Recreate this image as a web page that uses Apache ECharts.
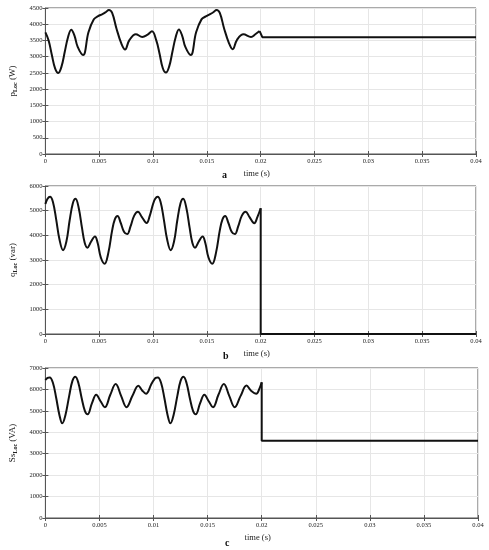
<!DOCTYPE html>
<html>
<head>
<meta charset="utf-8">
<script src="https://cdn.jsdelivr.net/npm/echarts@6/dist/echarts.min.js"></script>
<style>
  html, body { margin: 0; padding: 0; background: #fff; }
  #main { width: 489px; height: 550px; }
</style>
</head>
<body>
<div id="main"></div>
<script>
// time (s) and values, 0 .. 0.02 s
const tA = [0, 0.0003, 0.0006, 0.0009, 0.0012, 0.0015, 0.0018, 0.0021, 0.0024, 0.0027, 0.0030, 0.0035, 0.0040, 0.0045, 0.0049, 0.0053, 0.0056, 0.0059, 0.0062, 0.0066, 0.00705, 0.0074, 0.0078, 0.0084, 0.0090, 0.0095, 0.0099,
            0.0103, 0.0106, 0.0109, 0.0112, 0.0115, 0.0118, 0.0121, 0.0124, 0.0127, 0.0130, 0.0135, 0.0140, 0.0145, 0.0149, 0.0153, 0.0156, 0.0159, 0.0162, 0.0166, 0.01705, 0.0174, 0.0178, 0.0184, 0.0191, 0.0195, 0.0199];
const pLoc = [3750, 3500, 3050, 2640, 2500, 2700, 3150, 3600, 3830, 3650, 3300, 3050, 3750, 4150, 4250, 4310, 4370, 4440, 4350, 3870, 3410, 3220, 3510, 3690, 3610, 3680, 3780,
              3500, 3100, 2650, 2510, 2700, 3150, 3600, 3840, 3650, 3300, 3050, 3750, 4150, 4240, 4310, 4370, 4440, 4350, 3870, 3420, 3230, 3520, 3690, 3610, 3690, 3790];
const tAEnd = [0.0199, 0.02015, 0.04];
const pLocEnd = [3790, 3600, 3600];

const tB = [0, 0.0002, 0.00043, 0.0007, 0.0010, 0.0013, 0.00164, 0.00195, 0.00225, 0.00255, 0.0028, 0.0031, 0.0034, 0.00365, 0.0039, 0.00425, 0.0046, 0.00485, 0.00515, 0.0055, 0.00585, 0.0062, 0.00645, 0.0067, 0.0070, 0.0073, 0.0076, 0.0079, 0.00825, 0.0086, 0.00895, 0.0094, 0.0097,
            0.0100, 0.0102, 0.01043, 0.0107, 0.0110, 0.0113, 0.01164, 0.01195, 0.01225, 0.01255, 0.0128, 0.0131, 0.0134, 0.01365, 0.0139, 0.01425, 0.0146, 0.01485, 0.01515, 0.0155, 0.01585, 0.0162, 0.01645, 0.0167, 0.0170, 0.0173, 0.0176, 0.0179, 0.01825, 0.0186, 0.01895, 0.0194, 0.0197, 0.0200];
const qLoc = [5270, 5480, 5560, 5350, 4650, 3850, 3400, 3750, 4600, 5300, 5480, 5100, 4300, 3700, 3500, 3750, 3950, 3700, 3100, 2850, 3300, 4200, 4650, 4780, 4500, 4150, 4050, 4350, 4800, 4960, 4750, 4500, 4800,
              5270, 5480, 5560, 5350, 4650, 3850, 3400, 3750, 4600, 5300, 5480, 5100, 4300, 3700, 3500, 3750, 3950, 3700, 3100, 2850, 3300, 4200, 4650, 4780, 4500, 4150, 4050, 4350, 4800, 4960, 4750, 4490, 4750, 5100];
const tBEnd = [0.0200, 0.0200, 0.04];
const qLocEnd = [5100, 0, 0];

const tC = [0, 0.0002, 0.0004, 0.0007, 0.0010, 0.0013, 0.00156, 0.00185, 0.0022, 0.0025, 0.00277, 0.00305, 0.00335, 0.00365, 0.0039, 0.0043, 0.0047, 0.0051, 0.0055, 0.0060, 0.0065, 0.0070, 0.0075, 0.00805, 0.0086, 0.00895, 0.0093, 0.0098,
            0.0100, 0.0102, 0.0104, 0.0107, 0.0110, 0.0113, 0.01156, 0.01185, 0.0122, 0.0125, 0.01277, 0.01305, 0.01335, 0.01365, 0.0139, 0.0143, 0.0147, 0.0151, 0.0155, 0.0160, 0.0165, 0.0170, 0.0175, 0.01805, 0.0186, 0.0190, 0.0195, 0.0198, 0.0200];
const sLoc = [6440, 6540, 6560, 6300, 5600, 4800, 4420, 4800, 5700, 6400, 6590, 6300, 5600, 5000, 4840, 5350, 5750, 5450, 5170, 5750, 6250, 5700, 5170, 5700, 6170, 5950, 5800, 6250,
              6420, 6540, 6560, 6300, 5600, 4800, 4420, 4800, 5700, 6400, 6590, 6300, 5600, 5000, 4840, 5350, 5750, 5450, 5170, 5750, 6250, 5700, 5170, 5700, 6180, 5950, 5800, 6050, 6330];
const tCEnd = [0.0200, 0.0200, 0.04];
const sLocEnd = [6330, 3600, 3600];

const xTicks = { min: 0, max: 0.04, interval: 0.005 };
const yTicks = [
  { min: 0, max: 4500, interval: 500 },
  { min: 0, max: 6000, interval: 1000 },
  { min: 0, max: 7000, interval: 1000 }
];
const yNames = [
  '{a|p}{s|Loc}{a| (W)}',
  '{a|q}{s|Loc}{a| (var)}',
  '{a|Ss}{s|Loc}{a| (VA)}'
];
const panelLetters = ['a', 'b', 'c'];

function zip(t, v) {
  return t.map(function (x, i) { return [x, v[i]]; });
}

const serif = 'Liberation Serif';
const frame = '#555';
const gridColor = '#e6e6e6';

const grids = [
  { left: 38, right: 13, top: 8, height: 146 },
  { left: 36, right: 13, top: 186, height: 148 },
  { left: 35, right: 11, top: 368, height: 150 }
];

let xAxes = [], yAxes = [], series = [], titles = [];
const letterPos = [[222, 170], [223, 351], [225, 538]];

grids.forEach(function (g, i) {
  g.show = true;
  g.borderColor = frame;
  g.borderWidth = 1;
  g.backgroundColor = '#fff';
  // bottom axis with labels
  xAxes.push({
    type: 'value', gridIndex: i, min: xTicks.min, max: xTicks.max, interval: xTicks.interval,
    name: 'time (s)', nameLocation: 'middle', nameGap: 15,
    nameTextStyle: { fontFamily: serif, fontSize: 8.5, color: '#222', padding: [0, 8, 0, 0] },
    axisLine: { show: true, lineStyle: { color: frame, width: 1 } },
    axisTick: { show: true, inside: true, length: 3, lineStyle: { color: frame } },
    axisLabel: {
      fontFamily: serif, fontSize: 6.5, color: '#222', margin: 4,
      formatter: function (v) { return String(parseFloat(v.toFixed(3))); }
    },
    splitLine: { show: true, lineStyle: { color: gridColor, width: 1 } }
  });
  // top axis: ticks only
  xAxes.push({
    type: 'value', gridIndex: i, position: 'top', min: xTicks.min, max: xTicks.max, interval: xTicks.interval,
    axisLine: { show: false }, axisLabel: { show: false }, splitLine: { show: false },
    axisTick: { show: true, inside: true, length: 3, lineStyle: { color: frame } }
  });
  yAxes.push({
    type: 'value', gridIndex: i, min: yTicks[i].min, max: yTicks[i].max, interval: yTicks[i].interval,
    name: yNames[i], nameLocation: 'middle', nameRotate: 90, nameGap: 22,
    nameTextStyle: {
      fontFamily: serif, color: '#222',
      rich: {
        a: { fontFamily: serif, fontSize: 9, color: '#222', lineHeight: 12, verticalAlign: 'middle' },
        s: { fontFamily: serif, fontSize: 6, color: '#222', fontWeight: 'bold', lineHeight: 12, verticalAlign: 'bottom' }
      }
    },
    axisLine: { show: true, lineStyle: { color: frame, width: 1 } },
    axisTick: { show: true, inside: true, length: 3, lineStyle: { color: frame } },
    axisLabel: {
      fontFamily: serif, fontSize: 6.5, color: '#222', margin: 3,
      formatter: function (v) { return String(v); }
    },
    splitLine: { show: true, lineStyle: { color: gridColor, width: 1 } }
  });
  yAxes.push({
    type: 'value', gridIndex: i, position: 'right', min: yTicks[i].min, max: yTicks[i].max, interval: yTicks[i].interval,
    axisLine: { show: false }, axisLabel: { show: false }, splitLine: { show: false },
    axisTick: { show: true, inside: true, length: 3, lineStyle: { color: frame } }
  });
  titles.push({
    text: panelLetters[i], left: letterPos[i][0], top: letterPos[i][1], padding: 0,
    textStyle: { fontFamily: serif, fontSize: 10, fontWeight: 'bold', color: '#111' }
  });
});

const oscData = [zip(tA, pLoc), zip(tB, qLoc), zip(tC, sLoc)];
const endData = [zip(tAEnd, pLocEnd), zip(tBEnd, qLocEnd), zip(tCEnd, sLocEnd)];

for (let i = 0; i < 3; i++) {
  series.push({
    type: 'line', xAxisIndex: 2 * i, yAxisIndex: 2 * i, data: oscData[i],
    smooth: 0.4, showSymbol: false, symbol: 'none',
    lineStyle: { color: '#111', width: 2 }, animation: false
  });
  series.push({
    type: 'line', xAxisIndex: 2 * i, yAxisIndex: 2 * i, data: endData[i],
    smooth: false, showSymbol: false, symbol: 'none',
    lineStyle: { color: '#111', width: 2 }, animation: false
  });
}

const chart = echarts.init(document.getElementById('main'));
chart.setOption({
  animation: false,
  backgroundColor: '#fff',
  title: titles,
  grid: grids,
  xAxis: xAxes,
  yAxis: yAxes,
  series: series
});
</script>
</body>
</html>
